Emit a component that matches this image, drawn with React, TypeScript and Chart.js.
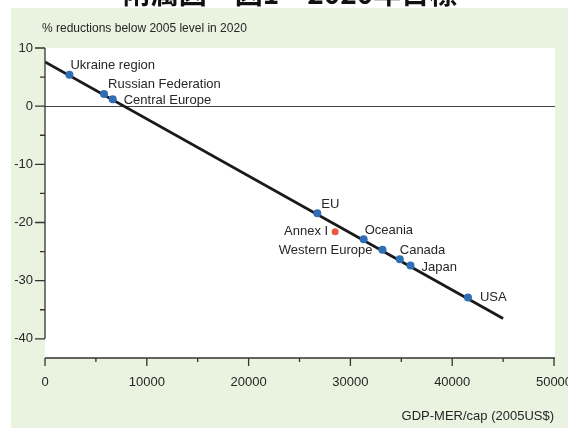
import { useEffect, useRef } from 'react';
import { Chart, registerables } from 'chart.js';

Chart.register(...registerables);

// Regional GDP per capita vs. pledged 2020 reductions
const regionNames = [
  'Ukraine region',
  'Russian Federation',
  'Central Europe',
  'EU',
  'Oceania',
  'Western Europe',
  'Canada',
  'Japan',
  'USA',
];
const gdpPerCapita = [2400, 5800, 6650, 26750, 31300, 33150, 34850, 35900, 41550];
const reductionPct = [5.4, 2.1, 1.2, -18.4, -22.9, -24.7, -26.3, -27.4, -32.9];

const annexNames = ['Annex I'];
const annexGdp = [28500];
const annexReduction = [-21.6];

// Fitted trend line end points
const trendGdp = [0, 45000];
const trendReduction = [7.6, -36.5];

const xTickValues = [0, 10000, 20000, 30000, 40000, 50000];
const xMinorTicks = [5000, 15000, 25000, 35000, 45000];
const yTickValues = [10, 0, -10, -20, -30, -40];
const yMinorTicks = [5, -5, -15, -25, -35];

const yTitle = '% reductions below 2005 level in 2020';
const xTitle = 'GDP-MER/cap (2005US$)';
const heading = '附属図　図1　2020年目標';

const FONT = '"Liberation Sans", Arial, sans-serif';
const TEXT = '#262626';
const PANEL = '#eaf3df';
const BLUE = '#2f6db5';
const RED = '#ea5a3f';

// Where each point's name sits relative to its marker (pixels)
const labelPlacement: Record<string, { dx: number; dy: number; align: CanvasTextAlign }> = {
  'Ukraine region': { dx: 1, dy: -9, align: 'left' },
  'Russian Federation': { dx: 4, dy: -9.5, align: 'left' },
  'Central Europe': { dx: 11, dy: 1.5, align: 'left' },
  EU: { dx: 4, dy: -9, align: 'left' },
  'Annex I': { dx: -7, dy: 0, align: 'right' },
  Oceania: { dx: 1, dy: -8.5, align: 'left' },
  'Western Europe': { dx: -10, dy: 1, align: 'right' },
  Canada: { dx: 0, dy: -8.5, align: 'left' },
  Japan: { dx: 11, dy: 1.5, align: 'left' },
  USA: { dx: 12, dy: 0, align: 'left' },
};

const decorPlugin = {
  id: 'decor',
  beforeDraw(chart: any) {
    const { ctx, width, height, chartArea } = chart;
    ctx.save();
    ctx.fillStyle = '#ffffff';
    ctx.fillRect(0, 0, width, height);
    ctx.fillStyle = PANEL;
    ctx.fillRect(11, 8, width - 11, height - 8);
    ctx.fillStyle = '#ffffff';
    ctx.fillRect(
      chartArea.left,
      chartArea.top,
      chartArea.right + 1 - chartArea.left,
      chartArea.bottom - chartArea.top
    );

    // heading strip above the panel
    ctx.fillStyle = '#111111';
    ctx.font = 'bold 28px "Noto Sans CJK JP"';
    ctx.textAlign = 'center';
    ctx.textBaseline = 'alphabetic';
    ctx.fillText(heading, 290, 4);

    // zero reference line
    const y0 = chart.scales.y.getPixelForValue(0);
    ctx.strokeStyle = '#444444';
    ctx.lineWidth = 1;
    ctx.beginPath();
    ctx.moveTo(chartArea.left, Math.round(y0) + 0.5);
    ctx.lineTo(chartArea.right + 1, Math.round(y0) + 0.5);
    ctx.stroke();
    ctx.restore();
  },
  afterDatasetsDraw(chart: any) {
    const { ctx, chartArea, scales } = chart;
    const xs = scales.x;
    const ys = scales.y;
    ctx.save();
    ctx.strokeStyle = '#333333';
    ctx.lineWidth = 1.3;

    // y axis line and ticks
    const ax = chartArea.left;
    ctx.beginPath();
    ctx.moveTo(ax, ys.getPixelForValue(yTickValues[0]));
    ctx.lineTo(ax, ys.getPixelForValue(yTickValues[yTickValues.length - 1]));
    yTickValues.forEach((v) => {
      const p = ys.getPixelForValue(v);
      ctx.moveTo(ax - 10, p);
      ctx.lineTo(ax, p);
    });
    yMinorTicks.forEach((v) => {
      const p = ys.getPixelForValue(v);
      ctx.moveTo(ax - 5, p);
      ctx.lineTo(ax, p);
    });
    ctx.stroke();

    // x axis line and ticks
    const ay = chartArea.bottom;
    ctx.beginPath();
    ctx.moveTo(chartArea.left, ay);
    ctx.lineTo(chartArea.right + 1, ay);
    xTickValues.forEach((v) => {
      const p = xs.getPixelForValue(v);
      ctx.moveTo(p, ay);
      ctx.lineTo(p, ay + 8);
    });
    xMinorTicks.forEach((v) => {
      const p = xs.getPixelForValue(v);
      ctx.moveTo(p, ay);
      ctx.lineTo(p, ay + 4);
    });
    ctx.stroke();

    // point names
    ctx.fillStyle = TEXT;
    ctx.font = `13px ${FONT}`;
    ctx.textBaseline = 'middle';
    const names = [...regionNames, ...annexNames];
    const gx = [...gdpPerCapita, ...annexGdp];
    const gy = [...reductionPct, ...annexReduction];
    names.forEach((name, i) => {
      const pl = labelPlacement[name] || { dx: 6, dy: 0, align: 'left' as CanvasTextAlign };
      ctx.textAlign = pl.align;
      ctx.fillText(name, xs.getPixelForValue(gx[i]) + pl.dx, ys.getPixelForValue(gy[i]) + pl.dy);
    });

    // value axis caption
    ctx.font = `12px ${FONT}`;
    ctx.textAlign = 'left';
    ctx.fillText(yTitle, 42, 29);
    ctx.restore();
  },
};

export default function App() {
  const canvasRef = useRef<HTMLCanvasElement | null>(null);

  useEffect(() => {
    if (!canvasRef.current) return;
    const chart = new Chart(canvasRef.current, {
      type: 'scatter',
      data: {
        datasets: [
          {
            label: 'Regions',
            data: gdpPerCapita.map((x, i) => ({ x, y: reductionPct[i] })),
            backgroundColor: BLUE,
            borderColor: BLUE,
            pointRadius: 4,
            pointBorderWidth: 0,
            order: 1,
          },
          {
            label: 'Annex I',
            data: annexGdp.map((x, i) => ({ x, y: annexReduction[i] })),
            backgroundColor: RED,
            borderColor: RED,
            pointRadius: 3.5,
            pointBorderWidth: 0,
            order: 1,
          },
          {
            label: 'Trend',
            data: trendGdp.map((x, i) => ({ x, y: trendReduction[i] })),
            showLine: true,
            borderColor: '#1a1a1a',
            borderWidth: 2.8,
            pointRadius: 0,
            order: 2,
          },
        ],
      },
      options: {
        responsive: false,
        animation: false,
        devicePixelRatio: 1,
        layout: { padding: { left: 0, right: 14, top: 48, bottom: 0 } },
        plugins: {
          legend: { display: false },
          tooltip: { enabled: false },
        },
        scales: {
          x: {
            type: 'linear',
            min: 0,
            max: 50000,
            grid: { display: false, drawTicks: false },
            border: { display: false },
            afterBuildTicks: (s: any) => {
              s.ticks = xTickValues.map((value) => ({ value }));
            },
            afterFit: (s: any) => {
              s.height = 70;
              s.paddingLeft = 0;
              s.paddingRight = 0;
            },
            ticks: {
              padding: 17,
              maxRotation: 0,
              autoSkip: false,
              color: TEXT,
              font: { family: FONT, size: 13 },
              callback: (v: any) => String(v),
            },
            title: {
              display: true,
              text: xTitle,
              align: 'end',
              color: TEXT,
              font: { family: FONT, size: 13 },
              padding: { top: 0, bottom: 4 },
            },
          },
          y: {
            type: 'linear',
            min: -43.3,
            max: 10,
            grid: { display: false, drawTicks: false },
            border: { display: false },
            afterBuildTicks: (s: any) => {
              s.ticks = yTickValues.map((value) => ({ value }));
            },
            afterFit: (s: any) => {
              s.width = 45;
              s.paddingTop = 0;
              s.paddingBottom = 0;
            },
            ticks: {
              padding: 12,
              autoSkip: false,
              color: TEXT,
              font: { family: FONT, size: 13 },
              callback: (v: any) => String(v),
            },
          },
        },
      },
      plugins: [decorPlugin],
    });
    return () => chart.destroy();
  }, []);

  return (
    <div style={{ position: 'fixed', left: 0, top: 0, width: 568, height: 428 }}>
      <canvas ref={canvasRef} width={568} height={428} style={{ display: 'block' }} />
    </div>
  );
}
